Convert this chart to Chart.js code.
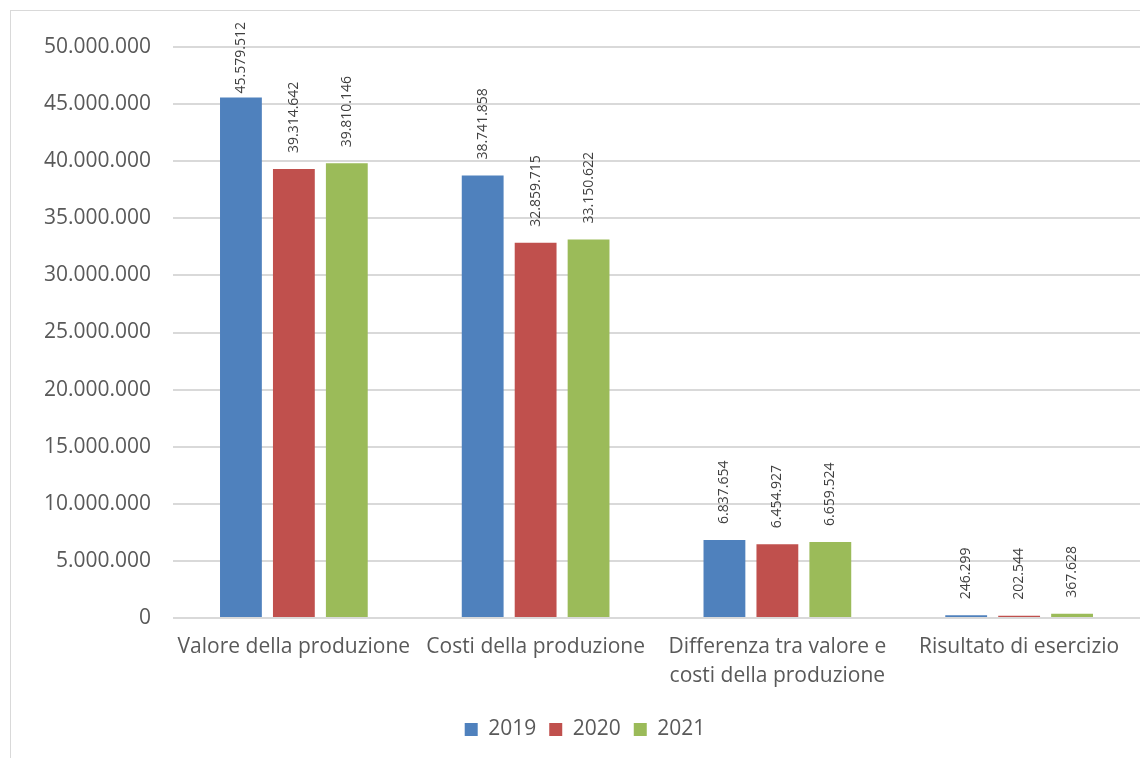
<!DOCTYPE html>
<html>
<head>
<meta charset="utf-8">
<script src="https://cdn.jsdelivr.net/npm/chart.js@4/dist/chart.umd.min.js"></script>
<style>
  html, body { margin: 0; padding: 0; background: #fff; }
  #wrap { position: absolute; left: 0; top: 0; width: 1140px; height: 758px; }
  #frame { position: absolute; left: 10px; top: 10px; width: 1150px; height: 800px; border: 1px solid #d9d9d9; box-sizing: border-box; }
</style>
</head>
<body>
<div id="frame"></div>
<div id="wrap"><canvas id="barChart" width="1140" height="758"></canvas></div>
<script>
// categorie e valori
const categories = [
    'Valore della produzione',
    'Costi della produzione',
    ['Differenza tra valore e', 'costi della produzione'],
    'Risultato di esercizio'
];
const years = ['2019', '2020', '2021'];
const values2019 = [45579512, 38741858, 6837654, 246299];
const values2020 = [39314642, 32859715, 6454927, 202544];
const values2021 = [39810146, 33150622, 6659524, 367628];
const yTicks = [0, 5000000, 10000000, 15000000, 20000000, 25000000, 30000000, 35000000, 40000000, 45000000, 50000000];
const colors = ['#4F81BD', '#C0504D', '#9BBB59'];

const fontFam = '"Open Sans", "Noto Sans", sans-serif';
const textColor = '#595959';

function fmt(v) {
    return String(Math.round(v)).replace(/\B(?=(\d{3})+(?!\d))/g, '.');
}

// etichette verticali sopra le barre
const barLabels = {
    id: 'barLabels',
    afterDatasetsDraw(chart) {
        const ctx = chart.ctx;
        ctx.save();
        ctx.font = '14px ' + fontFam;
        ctx.fillStyle = '#404040';
        ctx.textAlign = 'left';
        ctx.textBaseline = 'middle';
        chart.data.datasets.forEach((ds, i) => {
            const meta = chart.getDatasetMeta(i);
            meta.data.forEach((bar, j) => {
                const txt = fmt(ds.data[j]);
                const w = ctx.measureText(txt).width;
                let y = bar.y - 16;
                if (y - w < 22) y = 22 + w;
                ctx.save();
                ctx.translate(bar.x, y);
                ctx.rotate(-Math.PI / 2);
                ctx.fillText(txt, 0, 0);
                ctx.restore();
            });
        });
        ctx.restore();
    }
};

const ctx = document.getElementById('barChart').getContext('2d');
new Chart(ctx, {
    type: 'bar',
    data: {
        labels: categories,
        datasets: years.map((y, i) => ({
            label: y,
            data: [values2019, values2020, values2021][i],
            backgroundColor: colors[i],
            borderWidth: 0,
            categoryPercentage: 0.657,
            barPercentage: 0.79
        }))
    },
    options: {
        responsive: false,
        animation: false,
        layout: { padding: { top: 47, right: 0, bottom: 8, left: 30 } },
        plugins: {
            legend: {
                position: 'bottom',
                labels: {
                    boxWidth: 13,
                    boxHeight: 13,
                    padding: 13,
                    color: textColor,
                    font: { family: fontFam, size: 21 }
                }
            },
            tooltip: { enabled: false }
        },
        scales: {
            x: {
                grid: { display: false },
                border: { display: false },
                ticks: {
                    color: textColor,
                    font: { family: fontFam, size: 21, lineHeight: 1.4 },
                    maxRotation: 0,
                    autoSkip: false,
                    padding: 6
                },
                afterFit(scale) { scale.height = 88; }
            },
            y: {
                min: 0,
                max: 50000000,
                afterBuildTicks(scale) { scale.ticks = yTicks.map(v => ({ value: v })); },
                grid: { color: '#d9d9d9', lineWidth: 2, drawTicks: false },
                border: { display: false },
                ticks: {
                    color: textColor,
                    font: { family: fontFam, size: 21 },
                    padding: 22,
                    callback: v => fmt(v)
                },
                afterFit(scale) { scale.width = 143; }
            }
        }
    },
    plugins: [barLabels]
});
</script>
</body>
</html>
